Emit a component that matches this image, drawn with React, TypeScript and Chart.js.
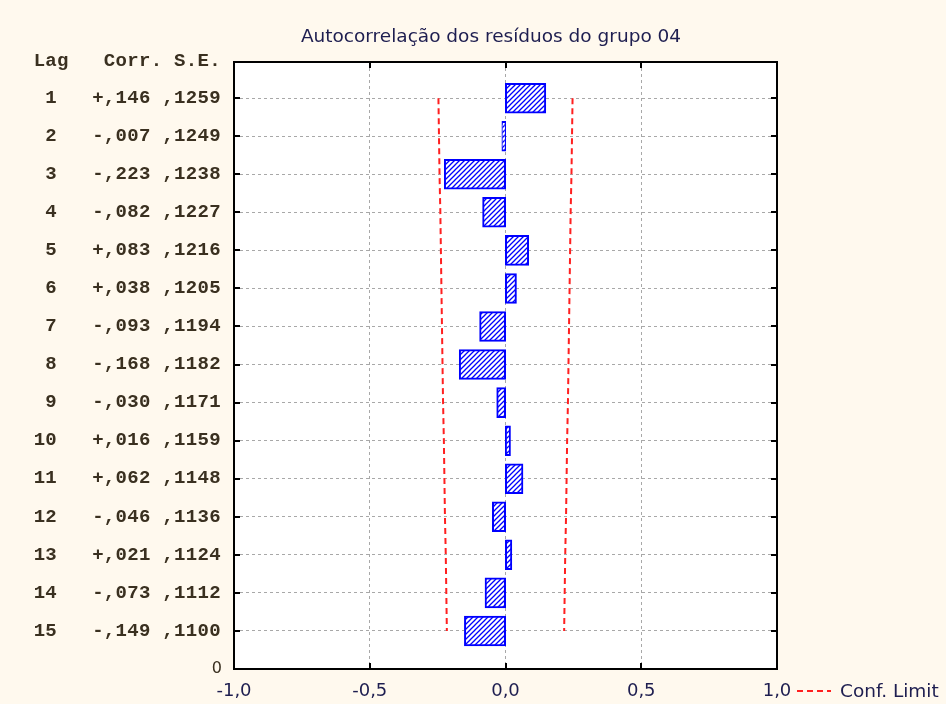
import { useEffect, useRef } from 'react';
import { Chart, registerables } from 'chart.js';

Chart.register(...registerables);

const chartTitle = 'Autocorrelação dos resíduos do grupo 04';
const lags = [1, 2, 3, 4, 5, 6, 7, 8, 9, 10, 11, 12, 13, 14, 15];
const autocorr = [0.146, -0.007, -0.223, -0.082, 0.083, 0.038, -0.093, -0.168, -0.03, 0.016, 0.062, -0.046, 0.021, -0.073, -0.149];
const stdErrors = [0.1259, 0.1249, 0.1238, 0.1227, 0.1216, 0.1205, 0.1194, 0.1182, 0.1171, 0.1159, 0.1148, 0.1136, 0.1124, 0.1112, 0.11];
const confUpper = [0.247, 0.245, 0.243, 0.24, 0.238, 0.236, 0.234, 0.232, 0.23, 0.227, 0.225, 0.223, 0.22, 0.218, 0.216];
const confLower = [-0.247, -0.245, -0.243, -0.24, -0.238, -0.236, -0.234, -0.232, -0.23, -0.227, -0.225, -0.223, -0.22, -0.218, -0.216];
const xTickValues = [-1, -0.5, 0, 0.5, 1];
const yEndTick = 16;
const yEndLabel = '0';
const columnHeader = 'Lag   Corr. S.E.';
const confLabel = 'Conf. Limit';

const fmtCorr = (v: number) => (v >= 0 ? '+' : '-') + ',' + String(Math.round(Math.abs(v) * 1000)).padStart(3, '0');
const fmtSE = (v: number) => ',' + String(Math.round(v * 10000)).padStart(4, '0');
const rowText = (i: number) => String(lags[i]).padStart(2, ' ') + '   ' + fmtCorr(autocorr[i]) + ' ' + fmtSE(stdErrors[i]);

const TEXT_DARK = '#1e1e50';
const TEXT_LEFT = '#3a3020';
const SANS = '"DejaVu Sans", sans-serif';

export default function App() {
  const ref = useRef<HTMLCanvasElement>(null);

  useEffect(() => {
    const canvas = ref.current!;
    const tile = document.createElement('canvas');
    tile.width = 5;
    tile.height = 5;
    const t = tile.getContext('2d')!;
    t.fillStyle = '#ffffff';
    t.fillRect(0, 0, 5, 5);
    t.strokeStyle = '#0000ff';
    t.lineWidth = 1.3;
    t.beginPath();
    for (const c of [0, 5, 10]) {
      t.moveTo(c + 1, -1);
      t.lineTo(c - 6, 6);
    }
    t.stroke();
    const hatch = canvas.getContext('2d')!.createPattern(tile, 'repeat')!;

    const decor = {
      id: 'decor',
      beforeDraw(chart: any) {
        const { ctx, chartArea: a } = chart;
        ctx.save();
        ctx.fillStyle = '#FFF9EE';
        ctx.fillRect(0, 0, chart.width, chart.height);
        ctx.fillStyle = '#ffffff';
        ctx.fillRect(a.left, a.top, a.right - a.left, a.bottom - a.top);
        ctx.restore();
      },
      afterDraw(chart: any) {
        const { ctx, chartArea: a } = chart;
        const x = chart.scales.x;
        const y = chart.scales.y;
        ctx.save();
        // frame
        ctx.strokeStyle = '#000000';
        ctx.lineWidth = 2;
        ctx.setLineDash([]);
        ctx.strokeRect(a.left, a.top, a.right - a.left, a.bottom - a.top);
        // inward ticks
        ctx.beginPath();
        lags.forEach((l) => {
          const py = Math.round(y.getPixelForValue(l));
          ctx.moveTo(a.left, py);
          ctx.lineTo(a.left + 6, py);
          ctx.moveTo(a.right, py);
          ctx.lineTo(a.right - 6, py);
        });
        xTickValues.slice(1, -1).forEach((v) => {
          const px = Math.round(x.getPixelForValue(v));
          ctx.moveTo(px, a.top);
          ctx.lineTo(px, a.top + 6);
          ctx.moveTo(px, a.bottom);
          ctx.lineTo(px, a.bottom - 6);
        });
        ctx.stroke();

        // left columns (monospace)
        const x0 = 33.5;
        const adv = 11.7;
        ctx.fillStyle = TEXT_LEFT;
        ctx.font = 'bold 19px "Liberation Mono", monospace';
        ctx.textAlign = 'center';
        ctx.textBaseline = 'middle';
        const drawMono = (s: string, py: number) => {
          for (let i = 0; i < s.length; i++) {
            if (s[i] !== ' ') ctx.fillText(s[i], x0 + adv * i + adv / 2, py);
          }
        };
        drawMono(columnHeader, a.top - 1);
        lags.forEach((l, i) => drawMono(rowText(i), y.getPixelForValue(l)));

        ctx.font = '16px ' + SANS;
        ctx.textAlign = 'right';
        ctx.fillText(yEndLabel, 222, y.getPixelForValue(yEndTick));

        // title
        ctx.fillStyle = TEXT_DARK;
        ctx.font = '18.5px ' + SANS;
        ctx.textAlign = 'center';
        ctx.fillText(chartTitle, 491, 37);

        // legend
        ctx.strokeStyle = '#ff2020';
        ctx.lineWidth = 2;
        ctx.setLineDash([6, 4]);
        ctx.beginPath();
        ctx.moveTo(797, 691);
        ctx.lineTo(831, 691);
        ctx.stroke();
        ctx.setLineDash([]);
        ctx.textAlign = 'left';
        ctx.font = '18.5px ' + SANS;
        ctx.fillText(chart.data.datasets[1].label, 840, 692);
        ctx.restore();
      },
    };

    const chart = new Chart(canvas, {
      type: 'bar',
      data: {
        datasets: [
          {
            type: 'bar',
            label: 'Corr.',
            data: lags.map((l, i) => ({ x: autocorr[i], y: l })),
            backgroundColor: hatch,
            borderColor: '#0000ff',
            borderWidth: 2,
            borderSkipped: false,
            inflateAmount: 1,
            minBarLength: 3,
            barPercentage: 0.75,
            categoryPercentage: 1,
          } as any,
          {
            type: 'line',
            label: confLabel,
            data: lags.map((l, i) => ({ x: confUpper[i], y: l })),
            borderColor: '#ff2020',
            borderWidth: 2,
            borderDash: [6, 4],
            pointRadius: 0,
            fill: false,
            tension: 0,
          } as any,
          {
            type: 'line',
            label: confLabel,
            data: lags.map((l, i) => ({ x: confLower[i], y: l })),
            borderColor: '#ff2020',
            borderWidth: 2,
            borderDash: [6, 4],
            pointRadius: 0,
            fill: false,
            tension: 0,
          } as any,
        ],
      },
      options: {
        indexAxis: 'y',
        responsive: false,
        animation: false,
        layout: { padding: { left: 234, right: 169, top: 62, bottom: 0 } },
        plugins: {
          legend: { display: false },
          title: { display: false },
          tooltip: { enabled: false },
        },
        scales: {
          x: {
            type: 'linear',
            position: 'bottom',
            min: -1,
            max: 1,
            afterBuildTicks: (s: any) => {
              s.ticks = xTickValues.map((v) => ({ value: v }));
            },
            afterFit: (s: any) => {
              s.height = 35;
            },
            ticks: {
              color: TEXT_DARK,
              font: { family: SANS, size: 18 },
              padding: 12,
              maxRotation: 0,
              autoSkip: false,
              callback: (v: any) => Number(v).toFixed(1).replace('.', ','),
            },
            grid: {
              drawTicks: false,
              color: (c: any) => (c.tick && Math.abs(c.tick.value) === 1 ? 'rgba(0,0,0,0)' : '#a8a8a8'),
              lineWidth: 1,
            },
            border: { display: false, dash: [3, 3] },
          },
          y: {
            type: 'linear',
            reverse: true,
            min: 0.05,
            max: yEndTick,
            offset: false,
            afterBuildTicks: (s: any) => {
              s.ticks = [...lags, yEndTick].map((v) => ({ value: v }));
            },
            afterFit: (s: any) => {
              s.width = 0;
            },
            ticks: { display: false },
            grid: {
              offset: false,
              drawTicks: false,
              color: (c: any) => (c.tick && c.tick.value >= 1 && c.tick.value <= 15 ? '#a8a8a8' : 'rgba(0,0,0,0)'),
              lineWidth: 1,
            },
            border: { display: false, dash: [3, 3] },
          },
        },
      } as any,
      plugins: [decor],
    });
    return () => chart.destroy();
  }, []);

  return (
    <div style={{ position: 'fixed', left: 0, top: 0, width: 946, height: 704, background: '#FFF9EE' }}>
      <canvas ref={ref} width={946} height={704} style={{ display: 'block' }} />
    </div>
  );
}
